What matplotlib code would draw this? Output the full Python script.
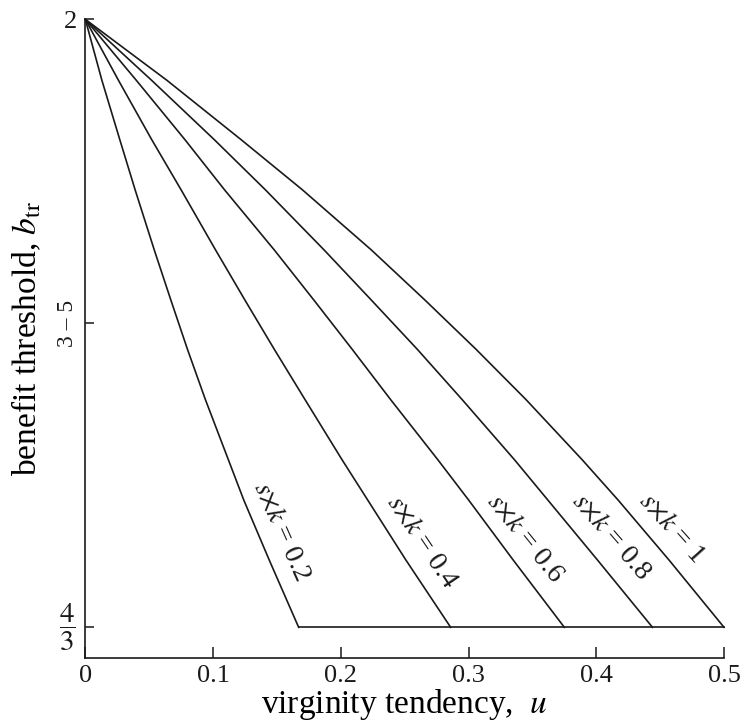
import matplotlib
matplotlib.use("Agg")
import matplotlib.pyplot as plt
import numpy as np

plt.rcParams['font.family'] = ['Liberation Serif', 'DejaVu Serif']
plt.rcParams['mathtext.fontset'] = 'stix'

b_levels = [2.0, 1.933, 1.868, 1.813, 1.747, 1.692, 1.638, 1.583, 1.517, 1.473, 1.407, 1.3333]

# virginity tendency u for each s*k curve at those levels
u_sk02 = [0, 0.013, 0.027, 0.039, 0.054, 0.067, 0.080, 0.094, 0.112, 0.124, 0.144, 0.167]
u_sk04 = [0, 0.026, 0.052, 0.075, 0.102, 0.125, 0.148, 0.172, 0.201, 0.221, 0.251, 0.286]
u_sk06 = [0, 0.040, 0.078, 0.109, 0.148, 0.179, 0.209, 0.239, 0.276, 0.300, 0.335, 0.375]
u_sk08 = [0, 0.052, 0.101, 0.141, 0.187, 0.224, 0.260, 0.295, 0.336, 0.362, 0.401, 0.444]
u_sk10 = [0, 0.064, 0.122, 0.170, 0.224, 0.266, 0.306, 0.345, 0.389, 0.417, 0.457, 0.500]

sk_labels = ["0.2", "0.4", "0.6", "0.8", "1"]
curves = [u_sk02, u_sk04, u_sk06, u_sk08, u_sk10]

# floor of the threshold
floor_b = 1.3333
floor_u = [u_sk02[-1], u_sk10[-1]]

x_ticks = [0, 0.1, 0.2, 0.3, 0.4, 0.5]
x_ticklabels = ["0", "0.1", "0.2", "0.3", "0.4", "0.5"]

fig = plt.figure(figsize=(7.4, 7.24), dpi=100)
ax = fig.add_axes([0.1153, 0.0916, 0.8631, 0.8817])

ink = "#1a1a1a"
lw = 1.2
for u in curves:
    ax.plot(u, b_levels, color=ink, lw=lw, clip_on=False, solid_joinstyle="round")
ax.plot(floor_u, [floor_b, floor_b], color=ink, lw=lw, clip_on=False)

# curve labels (position, rotation)
lab_pos = [(0.153, 1.438, -66), (0.263, 1.427, -56), (0.344, 1.431, -51),
           (0.411, 1.432, -49), (0.459, 1.442, -48)]
for lab, (x, y, r) in zip(sk_labels, lab_pos):
    ax.text(x, y, r"$s{\times}k$ = " + lab, fontsize=20, rotation=r,
            rotation_mode="anchor", ha="center", va="center", color=ink)

ax.set_xlim(0, 0.5)
ax.set_ylim(1.3, 2.0)
ax.spines["top"].set_visible(False)
ax.spines["right"].set_visible(False)
for s in ["left", "bottom"]:
    ax.spines[s].set_linewidth(1.2)
    ax.spines[s].set_color(ink)

ax.set_xticks(x_ticks)
ax.set_xticklabels(x_ticklabels)
ax.tick_params(axis="x", direction="in", length=8, width=1.1, labelsize=19, pad=5, colors=ink)

ax.set_yticks([4/3, 5/3, 2])
ax.set_yticklabels(["", "", "2"])
ax.tick_params(axis="y", direction="in", length=6.5, width=1.1, labelsize=19, pad=6, colors=ink)
ax.text(-0.0143, 4/3, r"$\dfrac{4}{3}$", fontsize=21, ha="center", va="center", color=ink)
# the 5/3 label is printed sideways in the original
ax.text(-0.0143, 5/3, "3 \u2013 5", fontsize=17, rotation=90, ha="center", va="center",
        color=ink)

ax.set_xlabel(r"virginity tendency,  $u$", fontsize=24, labelpad=0)
ax.set_ylabel(r"benefit threshold, $b_{\rm tr}$", fontsize=24)
ax.yaxis.set_label_coords(-0.066, 0.5)

fig.savefig("out.png", dpi=100)
